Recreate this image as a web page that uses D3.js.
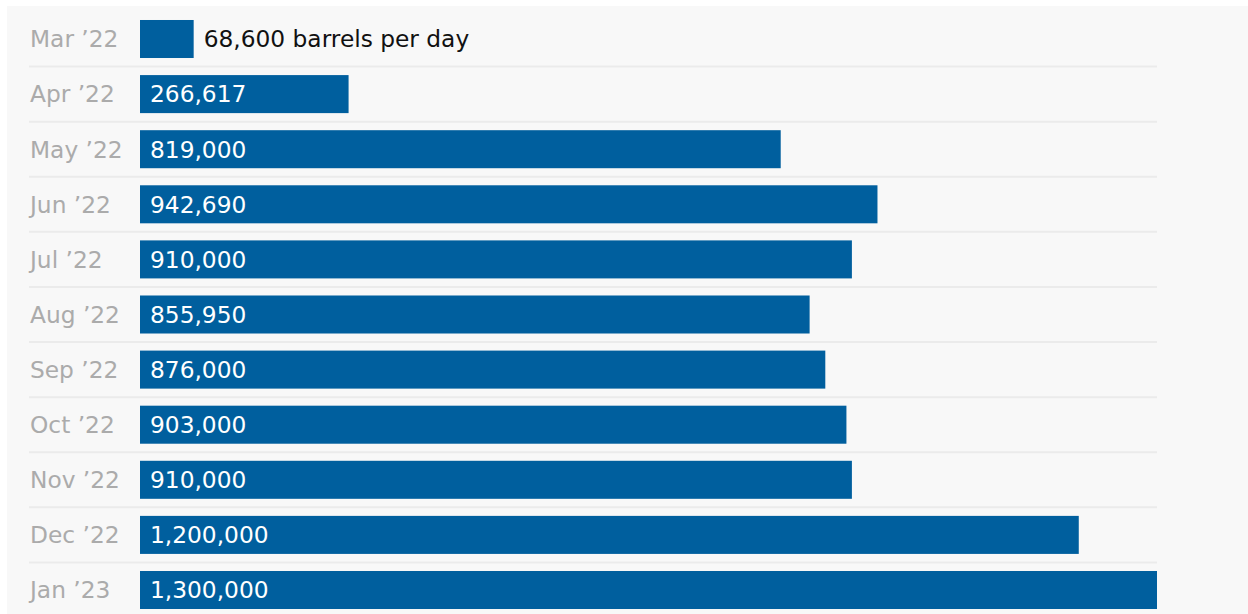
<!DOCTYPE html>
<html><head><meta charset="utf-8">
<script src="https://cdn.jsdelivr.net/npm/d3@7"></script>
<style>
html,body{margin:0;padding:0;background:#fff;}
svg{display:block;}
text{font-family:"DejaVu Sans",sans-serif;}
</style></head>
<body>
<svg id="c" width="1248" height="614"></svg>
<script>
const months = ["Mar \u201922","Apr \u201922","May \u201922","Jun \u201922","Jul \u201922","Aug \u201922","Sep \u201922","Oct \u201922","Nov \u201922","Dec \u201922","Jan \u201923"];
const values = [68600,266617,819000,942690,910000,855950,876000,903000,910000,1200000,1300000];
const valueLabels = ["68,600 barrels per day","266,617","819,000","942,690","910,000","855,950","876,000","903,000","910,000","1,200,000","1,300,000"];

const svg = d3.select("#c");
svg.append("rect").attr("x",7).attr("y",6).attr("width",1241).attr("height",608).attr("fill","#f8f8f8");

const x = d3.scaleLinear().domain([0,1300000]).range([140,1157]);
const y = d3.scaleBand().domain(months).range([11.45,617.55]).paddingInner(0.31).paddingOuter(0.155);
const gap = y.step()-y.bandwidth();

svg.append("g").selectAll("line").data(months.slice(1)).join("line")
  .attr("x1",29).attr("x2",1157)
  .attr("y1",d=>y(d)-gap/2).attr("y2",d=>y(d)-gap/2)
  .attr("stroke","#ebebeb").attr("stroke-width",2);

const rows = svg.append("g").selectAll("g").data(months).join("g");
rows.append("rect")
  .attr("x",x(0)).attr("y",d=>y(d))
  .attr("width",(d,i)=>x(values[i])-x(0)).attr("height",y.bandwidth())
  .attr("fill","#005f9e");
rows.append("text")
  .attr("x",30).attr("y",d=>y(d)+y.bandwidth()/2).attr("dy","0.36em")
  .attr("fill","#ababab").attr("font-size",23.3).text(d=>d);
rows.append("text")
  .attr("x",(d,i)=> i===0 ? x(values[i])+10 : x(0)+10)
  .attr("y",d=>y(d)+y.bandwidth()/2).attr("dy","0.36em")
  .attr("fill",(d,i)=> i===0 ? "#111" : "#fff").attr("font-size",23.3)
  .text((d,i)=>valueLabels[i]);
</script>
</body></html>
